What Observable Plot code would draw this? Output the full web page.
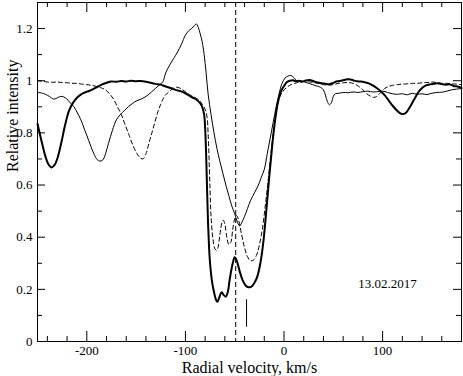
<!DOCTYPE html>
<html>
<head>
<meta charset="utf-8">
<script src="https://cdn.jsdelivr.net/npm/d3@7"></script>
<script src="https://cdn.jsdelivr.net/npm/@observablehq/plot@0.6"></script>
<style>
  html, body { margin: 0; padding: 0; background: #fff; }
</style>
</head>
<body>
<div id="chart"></div>
<script>
// [radial velocity km/s, relative intensity]
const thickProfile = [
  [-250,0.835],[-246,0.77],[-242,0.71],[-239,0.68],[-236,0.667],[-233,0.675],[-230,0.70],[-226,0.76],
  [-222,0.83],[-218,0.885],[-214,0.915],[-210,0.935],[-205,0.95],[-200,0.958],[-195,0.965],[-190,0.975],
  [-185,0.985],[-180,0.992],[-175,0.997],[-170,0.996],[-165,0.999],[-160,0.997],[-155,1.0],[-150,0.998],
  [-145,0.999],[-140,0.996],[-135,0.992],[-130,0.988],[-125,0.985],[-120,0.978],[-115,0.972],[-110,0.965],
  [-105,0.96],[-100,0.952],[-95,0.94],[-90,0.93],[-86,0.918],[-83,0.9],[-81,0.87],[-80,0.82],[-79,0.72],
  [-78,0.58],[-77,0.45],[-76,0.36],[-75,0.3],[-73,0.23],[-71,0.19],[-69,0.16],[-67.5,0.152],[-66,0.165],
  [-64,0.185],[-63,0.189],[-61.5,0.18],[-59,0.172],[-57,0.19],[-55,0.24],[-52,0.3],[-50,0.323],[-48,0.31],
  [-45,0.27],[-42,0.235],[-39,0.215],[-36,0.208],[-33,0.21],[-30,0.225],[-27,0.25],[-24,0.3],[-21,0.38],
  [-18,0.5],[-15,0.63],[-12,0.75],[-9,0.85],[-6,0.92],[-3,0.96],[0,0.98],[3,0.995],[6,1.0],[9,1.002],
  [12,0.998],[15,1.0],[18,0.996],[22,1.001],[26,1.003],[30,0.998],[34,0.993],[38,0.99],[42,0.988],
  [46,0.987],[50,0.992],[54,0.998],[58,1.0],[62,1.004],[66,1.006],[70,1.002],[74,0.998],[78,0.997],
  [82,0.994],[86,0.99],[90,0.982],[94,0.972],[98,0.96],[102,0.945],[106,0.925],[110,0.905],[114,0.888],
  [118,0.875],[121,0.872],[124,0.878],[127,0.895],[130,0.915],[133,0.935],[136,0.955],[140,0.972],
  [144,0.982],[148,0.986],[152,0.988],[156,0.99],[160,0.987],[164,0.985],[168,0.986],[172,0.98],
  [176,0.978],[180,0.972]
];
const thinProfile = [
  [-250,0.955],[-246,0.953],[-242,0.948],[-238,0.94],[-234,0.93],[-231,0.932],[-228,0.938],[-225,0.94],
  [-222,0.935],[-219,0.925],[-216,0.912],[-213,0.9],[-210,0.88],[-206,0.85],[-202,0.81],[-198,0.77],
  [-194,0.73],[-190,0.70],[-187,0.692],[-184,0.695],[-181,0.72],[-178,0.76],[-174,0.81],[-170,0.85],
  [-166,0.87],[-162,0.885],[-158,0.9],[-154,0.912],[-150,0.922],[-146,0.928],[-142,0.935],[-138,0.945],
  [-134,0.958],[-130,0.972],[-126,0.985],[-123,0.995],[-120,1.03],[-116,1.06],[-112,1.085],[-108,1.11],
  [-104,1.14],[-100,1.175],[-97,1.19],[-94,1.2],[-91,1.21],[-89,1.218],[-87,1.205],[-85,1.18],[-83,1.15],
  [-81,1.1],[-79,1.03],[-77,0.95],[-74,0.87],[-71,0.80],[-68,0.74],[-65,0.69],[-62,0.645],[-59,0.6],
  [-56,0.56],[-53,0.52],[-50,0.49],[-47,0.455],[-45,0.443],[-43,0.455],[-40,0.48],[-37,0.51],[-34,0.54],
  [-30,0.57],[-26,0.6],[-23,0.63],[-20,0.66],[-17,0.72],[-14,0.78],[-11,0.84],[-8,0.9],[-5,0.95],
  [-2,0.99],[1,1.01],[4,1.018],[7,1.02],[10,1.012],[13,1.0],[17,1.0],[21,0.995],[25,0.99],[29,0.985],
  [33,0.98],[37,0.975],[40,0.965],[42,0.945],[44,0.92],[46,0.908],[48,0.915],[50,0.94],[52,0.95],
  [56,0.952],[60,0.955],[65,0.954],[70,0.957],[75,0.955],[80,0.958],[85,0.96],[90,0.957],[95,0.958],
  [100,0.96],[105,0.955],[110,0.95],[115,0.948],[120,0.95],[125,0.946],[130,0.952],[135,0.948],
  [140,0.95],[145,0.947],[150,0.952],[155,0.955],[160,0.956],[165,0.96],[170,0.965],[175,0.968],[180,0.97]
];
const dashedProfile = [
  [-250,1.0],[-245,0.998],[-240,0.995],[-235,0.994],[-230,0.995],[-225,0.993],[-220,0.992],[-215,0.99],
  [-210,0.99],[-205,0.987],[-200,0.985],[-195,0.982],[-190,0.978],[-185,0.972],[-181,0.965],[-177,0.95],
  [-173,0.93],[-169,0.9],[-165,0.87],[-161,0.83],[-157,0.79],[-153,0.75],[-149,0.72],[-146,0.705],
  [-143,0.70],[-140,0.72],[-137,0.76],[-134,0.8],[-131,0.84],[-128,0.88],[-125,0.91],[-122,0.935],
  [-119,0.95],[-116,0.96],[-112,0.972],[-108,0.975],[-104,0.968],[-100,0.958],[-95,0.945],[-90,0.935],
  [-86,0.925],[-83,0.91],[-80,0.89],[-78,0.86],[-77,0.8],[-76,0.7],[-75,0.58],[-74,0.48],[-72,0.39],
  [-70,0.355],[-68.5,0.35],[-67,0.36],[-65,0.41],[-63,0.455],[-61.5,0.465],[-60,0.45],[-58,0.4],
  [-56,0.372],[-54,0.38],[-52,0.43],[-50,0.47],[-48,0.483],[-46,0.465],[-43,0.41],[-40,0.36],[-37,0.325],
  [-34,0.31],[-31,0.312],[-28,0.33],[-25,0.37],[-22,0.43],[-19,0.52],[-16,0.62],[-13,0.73],[-10,0.83],
  [-7,0.9],[-4,0.94],[-1,0.96],[3,0.975],[7,0.985],[11,0.99],[15,0.995],[20,0.998],[25,0.996],[30,0.993],
  [35,0.99],[40,0.985],[45,0.983],[50,0.985],[55,0.99],[60,0.992],[65,0.993],[70,0.99],[75,0.98],
  [80,0.965],[84,0.95],[88,0.94],[91,0.936],[94,0.94],[98,0.955],[102,0.97],[106,0.978],[110,0.982],
  [115,0.985],[120,0.987],[125,0.988],[130,0.99],[135,0.99],[140,0.992],[145,0.993],[150,0.995],
  [155,0.993],[160,0.99],[165,0.99],[170,0.988],[175,0.987],[180,0.985]
];

const xMajorTicks = [-200, -100, 0, 100];
const xMinorTicks = [-240, -220, -180, -160, -140, -120, -80, -60, -40, -20, 20, 40, 60, 80, 120, 140, 160, 180];
const yMajorTicks = [0, 0.2, 0.4, 0.6, 0.8, 1, 1.2];
const yMinorTicks = [0.1, 0.3, 0.5, 0.7, 0.9, 1.1];

const referenceVelocity = [-49];
const markerVelocity = [-38];
const markerRange = [0.055, 0.16];
const dateLabel = [{v: 105, i: 0.222, text: "13.02.2017"}];
const xTitle = ["Radial velocity, km/s"];
const yTitle = ["Relative intensity"];

const W = 463, H = 376;
const mL = 37, mR = 2, mT = 2, mB = 35;
const innerW = W - mL - mR, innerH = H - mT - mB;
const majorLen = 10, minorLen = 5, yMajorLen = 8, yMinorLen = 5;

const chart = Plot.plot({
  width: W,
  height: H,
  marginLeft: mL,
  marginRight: mR,
  marginTop: mT,
  marginBottom: mB,
  style: {fontFamily: "'Liberation Serif', 'Times New Roman', serif", fontSize: "13px", background: "#fff", color: "#000"},
  x: {domain: [-250, 180]},
  y: {domain: [0, 1.3]},
  marks: [
    Plot.frame({stroke: "#000", strokeWidth: 1}),
    // inward ticks, bottom & top
    Plot.tickX(xMajorTicks, {x: d => d, insetTop: innerH - majorLen, stroke: "#000"}),
    Plot.tickX(xMinorTicks, {x: d => d, insetTop: innerH - minorLen, stroke: "#000"}),
    Plot.tickX(xMajorTicks, {x: d => d, insetBottom: innerH - majorLen, stroke: "#000"}),
    Plot.tickX(xMinorTicks, {x: d => d, insetBottom: innerH - minorLen, stroke: "#000"}),
    // inward ticks, left & right
    Plot.tickY(yMajorTicks, {y: d => d, insetRight: innerW - yMajorLen, stroke: "#000"}),
    Plot.tickY(yMinorTicks, {y: d => d, insetRight: innerW - yMinorLen, stroke: "#000"}),
    Plot.tickY(yMajorTicks, {y: d => d, insetLeft: innerW - yMajorLen, stroke: "#000"}),
    Plot.tickY(yMinorTicks, {y: d => d, insetLeft: innerW - yMinorLen, stroke: "#000"}),
    Plot.axisX({ticks: xMajorTicks, tickSize: 0, tickPadding: 4, tickFormat: d => String(d), label: null, fontSize: 13}),
    Plot.axisY({ticks: yMajorTicks, tickSize: 0, tickPadding: 5, tickFormat: d => String(d), label: null, fontSize: 13}),
    // profiles
    Plot.line(thinProfile, {x: d => d[0], y: d => d[1], stroke: "#000", strokeWidth: 1, curve: "catmull-rom"}),
    Plot.line(dashedProfile, {x: d => d[0], y: d => d[1], stroke: "#000", strokeWidth: 1, strokeDasharray: "4,3", curve: "catmull-rom"}),
    Plot.line(thickProfile, {x: d => d[0], y: d => d[1], stroke: "#000", strokeWidth: 2, curve: "catmull-rom"}),
    // annotations
    Plot.ruleX(referenceVelocity, {x: d => d, stroke: "#000", strokeWidth: 1, strokeDasharray: "5,3"}),
    Plot.ruleX(markerVelocity, {x: d => d, y1: markerRange[0], y2: markerRange[1], stroke: "#000", strokeWidth: 1}),
    Plot.text(dateLabel, {x: "v", y: "i", text: "text", fontSize: 13, fill: "#000"}),
    Plot.text(xTitle, {text: d => d, frameAnchor: "bottom", dy: 31, fontSize: 16, fill: "#000"}),
    Plot.text(yTitle, {text: d => d, frameAnchor: "left", dx: -25, rotate: -90, fontSize: 16, fill: "#000"})
  ]
});
document.getElementById("chart").appendChild(chart);
</script>
</body>
</html>
